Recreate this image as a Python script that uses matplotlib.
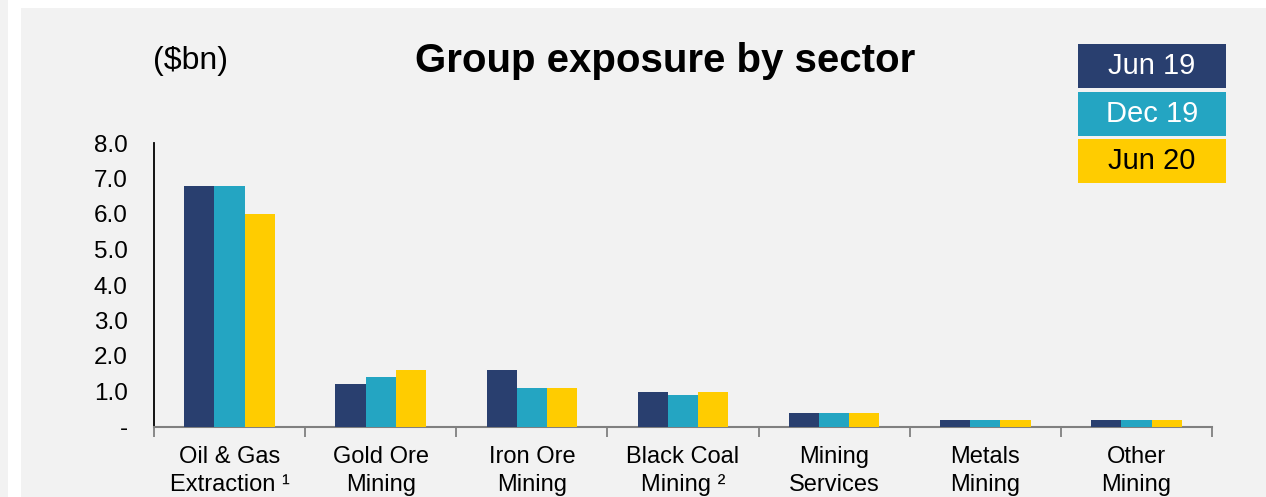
import matplotlib
matplotlib.use("Agg")

import numpy as np
import matplotlib.pyplot as plt
from matplotlib.patches import Rectangle

# =========================
# DATA
# =========================

sectors = [
    "Oil & Gas\nExtraction \u00b9",
    "Gold Ore\nMining",
    "Iron Ore\nMining",
    "Black Coal\nMining \u00b2",
    "Mining\nServices",
    "Metals\nMining",
    "Other\nMining",
]

periods = ["Jun 19", "Dec 19", "Jun 20"]

jun19 = [6.8, 1.2, 1.6, 1.0, 0.4, 0.2, 0.2]
dec19 = [6.8, 1.4, 1.1, 0.9, 0.4, 0.2, 0.2]
jun20 = [6.0, 1.6, 1.1, 1.0, 0.4, 0.2, 0.2]

y_ticks = [0, 1, 2, 3, 4, 5, 6, 7, 8]
y_labels = ["-", "1.0", "2.0", "3.0", "4.0", "5.0", "6.0", "7.0", "8.0"]

colors = ["#293F6F", "#24A5C2", "#FFCC00"]
text_colors = ["white", "white", "black"]

# =========================
# FIGURE
# =========================

plt.rcParams["font.family"] = ["Liberation Sans", "DejaVu Sans"]

W, H = 1266, 497
fig = plt.figure(figsize=(W / 100, H / 100), dpi=100)
fig.patch.set_facecolor("white")

bg = "#F2F2F2"

# panel background
fig.patches.append(Rectangle((0, 0), 8 / W, 1, transform=fig.transFigure,
                             facecolor=bg, edgecolor="none", zorder=0))
fig.patches.append(Rectangle((21 / W, 0), 1, 1 - 8 / H, transform=fig.transFigure,
                             facecolor=bg, edgecolor="none", zorder=0))

ax = fig.add_axes([154 / W, (H - 427) / H, (1212 - 154) / W, (427 - 143) / H])
ax.set_zorder(5)
ax.patch.set_alpha(0)

x = np.arange(len(sectors))
width = 0.2

for i, vals in enumerate([jun19, dec19, jun20]):
    ax.bar(x + (i - 1) * width, vals, width, color=colors[i], zorder=3)

ax.set_xlim(-0.5, len(sectors) - 0.5)
ax.set_ylim(0, 8)

ax.set_yticks(y_ticks)
ax.set_yticklabels(y_labels, fontsize=17.5)
ax.tick_params(axis="y", length=0, pad=19)

ax.set_xticks(x)
ax.set_xticklabels(sectors, fontsize=17, linespacing=1.3)
ax.tick_params(axis="x", which="major", length=0, pad=14)
ax.set_xticks(np.arange(-0.5, len(sectors)), minor=True)
ax.tick_params(axis="x", which="minor", length=7, width=1.3, color="#808080")

for s in ["top", "right"]:
    ax.spines[s].set_visible(False)
ax.spines["left"].set_color("black")
ax.spines["left"].set_linewidth(1.3)
ax.spines["bottom"].set_color("#808080")
ax.spines["bottom"].set_linewidth(1.5)

# =========================
# TITLE / UNITS
# =========================

fig.text(665 / W, 1 - 61 / H, "Group exposure by sector", fontsize=29,
         fontweight="bold", ha="center", va="center")
fig.text(190 / W, 1 - 61 / H, "($bn)", fontsize=23, ha="center", va="center")

# =========================
# LEGEND BOXES
# =========================

box_tops = [44, 92, 139]
box_h = 44
for i, label in enumerate(periods):
    top = box_tops[i]
    fig.patches.append(Rectangle((1078 / W, 1 - (top + box_h) / H), 148 / W, box_h / H,
                                 transform=fig.transFigure, facecolor=colors[i],
                                 edgecolor="none", zorder=2))
    fig.text(1152 / W, 1 - (top + box_h / 2) / H, label, fontsize=21,
             color=text_colors[i], ha="center", va="center", zorder=3)

plt.savefig("out.png", dpi=100, facecolor=fig.get_facecolor())
plt.close()
